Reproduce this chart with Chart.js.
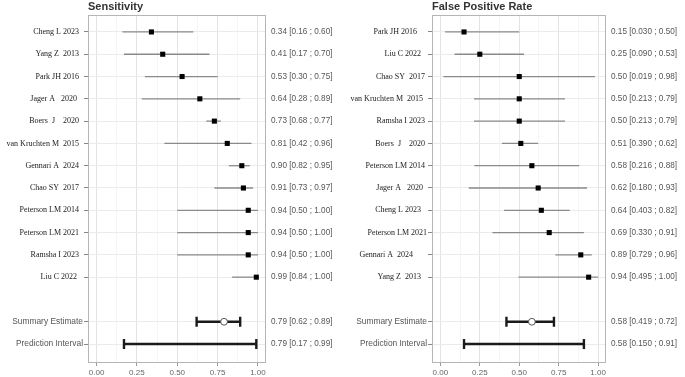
<!DOCTYPE html>
<html>
<head>
<meta charset="utf-8">
<script src="https://cdn.jsdelivr.net/npm/chart.js@4.4.1/dist/chart.umd.min.js"></script>
<style>
body{margin:0;background:#fff;}
#wrap{position:relative;width:685px;height:377px;}
canvas{position:absolute;top:0;}
</style>
</head>
<body>
<div id="wrap">
<canvas id="sens" width="345" height="377" style="left:0"></canvas>
<canvas id="fpr" width="341" height="377" style="left:344px"></canvas>
</div>
<script>
// sensitivity panel
const sensStudies = ['Cheng L 2023  ', 'Yang Z  2013  ', 'Park JH 2016  ', 'Jager A   2020   ', 'Boers  J    2020  ',
	'van Kruchten M  2015  ', 'Gennari A  2024  ', 'Chao SY  2017  ', 'Peterson LM 2014  ', 'Peterson LM 2021  ',
	'Ramsha I 2023  ', 'Liu C 2022   '];
const sensEst = [0.34, 0.41, 0.53, 0.64, 0.73, 0.81, 0.90, 0.91, 0.94, 0.94, 0.94, 0.99];
const sensLo  = [0.16, 0.17, 0.30, 0.28, 0.68, 0.42, 0.82, 0.73, 0.50, 0.50, 0.50, 0.84];
const sensHi  = [0.60, 0.70, 0.75, 0.89, 0.77, 0.96, 0.95, 0.97, 1.00, 1.00, 1.00, 1.00];
const sensSummary = [0.79, 0.62, 0.89];
const sensPredict = [0.79, 0.17, 0.99];

// false positive rate panel
const fprStudies = ['Park JH 2016     ', 'Liu C 2022   ', 'Chao SY  2017 ', 'van Kruchten M  2015  ', 'Ramsha I 2023 ',
	'Boers  J    2020 ', 'Peterson LM 2014 ', 'Jager A   2020  ', 'Cheng L 2023   ', 'Peterson LM 2021',
	'Gennari A  2024       ', 'Yang Z  2013   '];
const fprEst = [0.15, 0.25, 0.50, 0.50, 0.50, 0.51, 0.58, 0.62, 0.64, 0.69, 0.89, 0.94];
const fprLo  = [0.030, 0.090, 0.019, 0.213, 0.213, 0.390, 0.216, 0.180, 0.403, 0.330, 0.729, 0.495];
const fprHi  = [0.50, 0.53, 0.98, 0.79, 0.79, 0.62, 0.88, 0.93, 0.82, 0.91, 0.96, 1.00];
const fprSummary = [0.58, 0.419, 0.72];
const fprPredict = [0.58, 0.150, 0.91];

const xTicks = [0, 0.125, 0.25, 0.375, 0.5, 0.625, 0.75, 0.875, 1];
const isMajor = v => Math.abs(v * 4 - Math.round(v * 4)) < 1e-6;

// panel border + title, placed from the chart area
const panelDeco = {
	id: 'panelDeco',
	beforeDatasetsDraw(chart, args, opts) {
		const a = chart.chartArea, ctx = chart.ctx;
		ctx.save();
		ctx.strokeStyle = '#b5b5b5';
		ctx.lineWidth = 1;
		ctx.strokeRect(a.left + 0.5, a.top + 0.5, a.width - 1, a.height - 1);
		ctx.restore();
	},
	afterDraw(chart, args, opts) {
		const a = chart.chartArea, ctx = chart.ctx;
		ctx.save();
		ctx.font = 'bold 11px "Liberation Sans"';
		ctx.fillStyle = '#333';
		ctx.textBaseline = 'middle';
		ctx.fillText(opts.text, a.left, a.top - 8);
		ctx.restore();
	}
};

function forest(id, title, names, est, lo, hi, summ, pred, loDigits) {
	const summRow = names.length + 1, predRow = names.length + 2;
	const rows = names.map((n, i) => i).concat([summRow, predRow]);
	const leftLabels = names.concat(['Summary Estimate', 'Prediction Interval']);
	const fmt = (e, l, h) => e.toFixed(2) + ' [' + l.toFixed(loDigits) + ' ; ' + h.toFixed(2) + ']';
	const rightLabels = names.map((n, i) => fmt(est[i], lo[i], hi[i])).concat([fmt(...summ), fmt(...pred)]);

	let datasets = [];
	//study intervals
	names.forEach((n, i) => {
		datasets.push({
			data: [{x: lo[i], y: i}, {x: hi[i], y: i}],
			showLine: true, borderColor: '#8a8a8a', borderWidth: 1.3, pointRadius: 0, order: 3
		});
	});
	datasets.push({
		data: est.map((e, i) => ({x: e, y: i})),
		pointStyle: 'rect', pointRadius: 3.6, backgroundColor: '#000', borderColor: '#000', borderWidth: 0, order: 1
	});
	//summary and prediction bars with caps
	[[summ, summRow], [pred, predRow]].forEach(([v, r]) => {
		datasets.push({
			data: [{x: v[1], y: r}, {x: v[2], y: r}],
			showLine: true, borderColor: '#1a1a1a', borderWidth: 2.4, pointRadius: 0, order: 2
		});
		datasets.push({
			data: [{x: v[1], y: r}, {x: v[2], y: r}],
			pointStyle: 'line', rotation: 90, pointRadius: 5, borderColor: '#1a1a1a', borderWidth: 2.4, order: 2
		});
	});
	datasets.push({
		data: [{x: summ[0], y: summRow}],
		pointStyle: 'circle', pointRadius: 3.4, backgroundColor: '#fff', borderColor: '#555', borderWidth: 1, order: 0
	});

	return new Chart(document.getElementById(id), {
		type: 'scatter',
		data: {datasets: datasets},
		plugins: [panelDeco],
		options: {
			responsive: false,
			animation: false,
			events: [],
			layout: {padding: {top: 15, left: 0, right: 0, bottom: 0}},
			plugins: {
				legend: {display: false},
				tooltip: {enabled: false},
				panelDeco: {text: title}
			},
			scales: {
				x: {
					type: 'linear', min: -0.053, max: 1.05,
					afterBuildTicks: s => { s.ticks = xTicks.map(v => ({value: v})); },
					afterFit: s => { s.height = 14; },
					border: {display: false},
					grid: {
						color: c => isMajor(c.tick.value) ? '#e3e3e3' : '#f2f2f2',
						lineWidth: c => isMajor(c.tick.value) ? 1 : 0.8,
						tickLength: 3,
						tickColor: c => isMajor(c.tick.value) ? '#999' : 'rgba(0,0,0,0)'
					},
					ticks: {
						autoSkip: false, maxRotation: 0, padding: 2,
						font: {family: 'Liberation Sans', size: 8},
						color: '#666',
						callback: v => isMajor(v) ? v.toFixed(2) : ''
					}
				},
				y: {
					type: 'linear', reverse: true, min: -0.76, max: 14.85,
					afterBuildTicks: s => { s.ticks = rows.map(v => ({value: v})); },
					afterFit: s => { s.width = 88; },
					border: {display: false},
					grid: {color: '#ebebeb', lineWidth: 1, tickLength: 4, tickColor: '#888'},
					ticks: {
						autoSkip: false, padding: 1,
						callback: (v, i) => leftLabels[i],
						font: c => c.index >= names.length ? {family: 'Liberation Sans', size: 8.4} : {family: 'Liberation Serif', size: 8},
						color: c => c.index >= names.length ? '#555' : '#1a1a1a'
					}
				},
				y2: {
					type: 'linear', position: 'right', reverse: true, min: -0.76, max: 14.85,
					afterBuildTicks: s => { s.ticks = rows.map(v => ({value: v})); },
					afterFit: s => { s.width = 79; },
					border: {display: false},
					grid: {display: false, drawTicks: false},
					ticks: {
						autoSkip: false, padding: 5,
						callback: (v, i) => rightLabels[i],
						font: {family: 'Liberation Sans', size: 8.2},
						color: '#555'
					}
				}
			}
		}
	});
}

forest('sens', 'Sensitivity', sensStudies, sensEst, sensLo, sensHi, sensSummary, sensPredict, 2);
forest('fpr', 'False Positive Rate', fprStudies, fprEst, fprLo, fprHi, fprSummary, fprPredict, 3);
</script>
</body>
</html>
